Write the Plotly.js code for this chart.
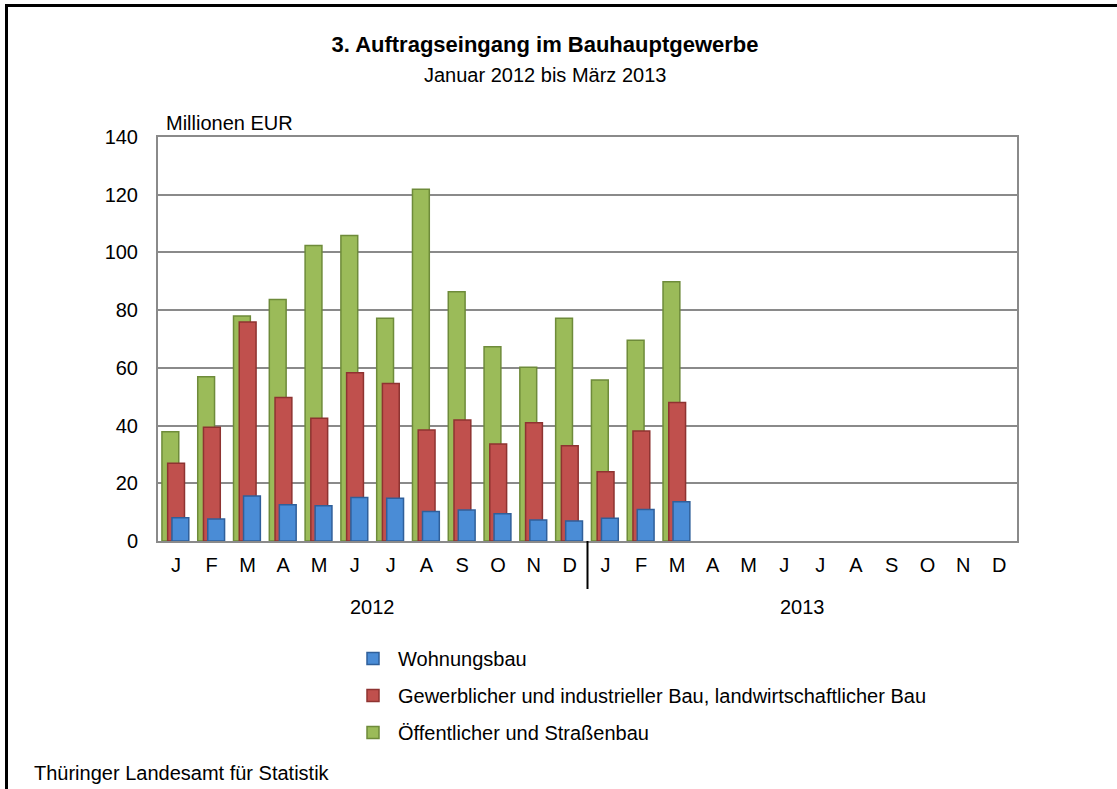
<!DOCTYPE html>
<html>
<head>
<meta charset="utf-8">
<script src="https://cdn.plot.ly/plotly-3.0.1.min.js"></script>
<style>
  html, body { margin: 0; padding: 0; background: #ffffff; }
  #wrap { position: relative; width: 1117px; height: 789px; overflow: hidden; }
  #chart { width: 1117px; height: 789px; }
  #frame { position: absolute; left: 5px; top: 4px; width: 1200px; height: 900px;
           border-left: 3px solid #000; border-top: 3px solid #000; pointer-events: none; }
</style>
</head>
<body>
<div id="wrap">
<div id="chart"></div>
<div id="frame"></div>
</div>
<script>
// ---- data ----
const monthLabels = ["J","F","M","A","M","J","J","A","S","O","N","D",
                     "J","F","M","A","M","J","J","A","S","O","N","D"];
const yearLabels = ["2012", "2013"];
const wohnungsbau = [8.1, 7.6, 15.6, 12.6, 12.2, 15.1, 14.8, 10.2, 10.7, 9.4, 7.3, 6.9, 7.9, 10.9, 13.6];
const gewerbe     = [26.9, 39.4, 75.9, 49.7, 42.5, 58.3, 54.6, 38.5, 41.9, 33.6, 41.0, 33.0, 24.0, 38.1, 48.0];
const oeffentlich = [37.9, 56.9, 78.0, 83.7, 102.4, 105.9, 77.2, 121.9, 86.4, 67.3, 60.2, 77.2, 55.8, 69.6, 89.8];
const seriesNames = ["Wohnungsbau",
  "Gewerblicher und industrieller Bau, landwirtschaftlicher Bau",
  "Öffentlicher und Straßenbau"];

const FONT = "Liberation Sans, Arial, sans-serif";
const idx = a => a.map((_, i) => i);

function barTrace(vals, name, fill, edge, offset, group, rank) {
  return {
    type: "bar",
    x: idx(vals),
    y: vals,
    name: name,
    legendgroup: group,
    legendrank: rank,
    width: 0.47,
    offset: offset,
    marker: { color: fill, line: { color: edge, width: 1.5 } },
    hoverinfo: "y+name"
  };
}

const traces = [
  barTrace(oeffentlich, seriesNames[2], "#9BBB59", "#6E8B3A", -0.39, "g3", 3),
  barTrace(gewerbe,     seriesNames[1], "#C0504D", "#8E3331", -0.23, "g2", 2),
  barTrace(wohnungsbau, seriesNames[0], "#4A8CD6", "#2F5F9A", -0.11, "g1", 1)
];

const gridCol = "#8A8A8A";

const layout = {
  width: 1117, height: 789,
  margin: { l: 158, r: 100, t: 137, b: 248, pad: 0 },
  paper_bgcolor: "#ffffff",
  plot_bgcolor: "#ffffff",
  font: { family: FONT, size: 20, color: "#000000" },
  barmode: "overlay",
  showlegend: true,
  title: {
    text: "<b>3. Auftragseingang im Bauhauptgewerbe</b>",
    font: { family: FONT, size: 22, color: "#000000" },
    xref: "container", yref: "container",
    x: 545 / 1117, xanchor: "center",
    y: 1 - 44 / 789, yanchor: "middle"
  },
  xaxis: {
    range: [-0.5, 23.5],
    tickmode: "array",
    tickvals: idx(monthLabels),
    ticktext: monthLabels,
    ticks: "outside", ticklen: 5, tickcolor: "rgba(0,0,0,0)",
    tickfont: { family: FONT, size: 20, color: "#000000" },
    showgrid: false,
    showline: true, linecolor: gridCol, linewidth: 2, mirror: true,
    zeroline: false, fixedrange: true
  },
  yaxis: {
    range: [0, 140],
    tick0: 0, dtick: 20,
    ticks: "outside", ticklen: 14, tickcolor: "rgba(0,0,0,0)",
    tickfont: { family: FONT, size: 20, color: "#000000" },
    showgrid: true, gridcolor: gridCol, gridwidth: 2,
    showline: true, linecolor: gridCol, linewidth: 2, mirror: true,
    zeroline: false, fixedrange: true
  },
  legend: {
    x: (348 - 158) / 859, xanchor: "left",
    y: -(639 - 541) / 404, yanchor: "top",
    orientation: "v",
    traceorder: "grouped",
    tracegroupgap: 8,
    font: { family: FONT, size: 20, color: "#000000" },
    bgcolor: "rgba(0,0,0,0)",
    itemwidth: 40
  },
  annotations: [
    { text: "Januar 2012 bis März 2013", xref: "paper", yref: "paper",
      x: (545 - 158) / 859, y: 1 + (137 - 75) / 404, xanchor: "center", yanchor: "middle",
      showarrow: false, font: { family: FONT, size: 20, color: "#000000" } },
    { text: "Millionen EUR", xref: "paper", yref: "paper",
      x: (164 - 158) / 859, y: 1 + (137 - 123) / 404, xanchor: "left", yanchor: "middle",
      showarrow: false, font: { family: FONT, size: 20, color: "#000000" } },
    { text: yearLabels[0], xref: "x", yref: "paper",
      x: 5.5, y: -(607 - 541) / 404, xanchor: "center", yanchor: "middle",
      showarrow: false, font: { family: FONT, size: 20, color: "#000000" } },
    { text: yearLabels[1], xref: "x", yref: "paper",
      x: 17.5, y: -(607 - 541) / 404, xanchor: "center", yanchor: "middle",
      showarrow: false, font: { family: FONT, size: 20, color: "#000000" } },
    { text: "Thüringer Landesamt für Statistik", xref: "paper", yref: "paper",
      x: (32 - 158) / 859, y: -(773 - 541) / 404, xanchor: "left", yanchor: "middle",
      showarrow: false, font: { family: FONT, size: 20, color: "#000000" } }
  ],
  shapes: [
    // year divider
    { type: "line", xref: "x", yref: "paper", x0: 11.5, x1: 11.5,
      y0: 0, y1: -(589 - 541) / 404, line: { color: "#000000", width: 2 } }
  ]
};

Plotly.newPlot("chart", traces, layout, { displayModeBar: false, staticPlot: true });
</script>
</body>
</html>
